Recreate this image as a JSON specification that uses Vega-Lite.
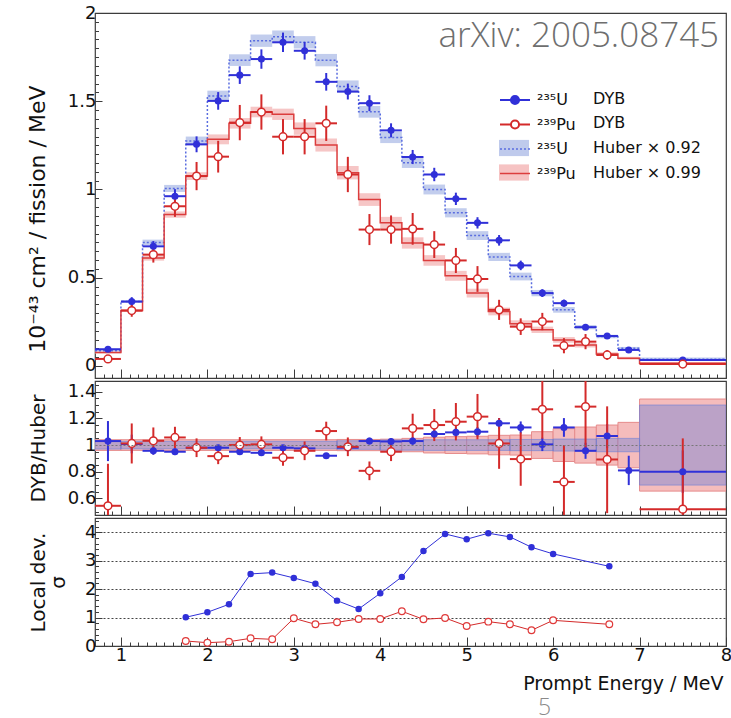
{
"$schema": "https://vega.github.io/schema/vega-lite/v6.json",
"padding": {"left": 25, "top": 3, "right": 0, "bottom": 8},
"spacing": 0,
"config": {
 "font": "DejaVu Sans",
 "view": {"stroke": "#3c3c3c", "strokeWidth": 1.2},
 "axis": {"domain": false, "grid": false, "tickColor": "#3c3c3c", "tickWidth": 1, "labelFont": "DejaVu Sans", "labelFontSize": 18, "labelColor": "#111111", "titleFont": "DejaVu Sans", "titleFontSize": 20, "titleFontWeight": "normal", "titleColor": "#111111", "labelFlush": false, "labelOverlap": false, "labelBound": false},
 "legend": {"labelFont": "DejaVu Sans", "labelFontSize": 16, "labelColor": "#111111", "orient": "none", "legendX": 410, "title": null, "padding": 0, "symbolSize": 324, "rowPadding": 6.5}
},
"datasets": {
 "dyb": [
  {"s":"U DYB","e":0.85,"lo":0.7,"hi":1.0,"v":0.095,"vl":0.085,"vh":0.105},
  {"s":"U DYB","e":1.125,"lo":1.0,"hi":1.25,"v":0.365,"vl":0.34,"vh":0.39},
  {"s":"U DYB","e":1.375,"lo":1.25,"hi":1.5,"v":0.678,"vl":0.648,"vh":0.708},
  {"s":"U DYB","e":1.625,"lo":1.5,"hi":1.75,"v":0.962,"vl":0.922,"vh":1.002},
  {"s":"U DYB","e":1.875,"lo":1.75,"hi":2.0,"v":1.256,"vl":1.211,"vh":1.301},
  {"s":"U DYB","e":2.125,"lo":2.0,"hi":2.25,"v":1.502,"vl":1.452,"vh":1.552},
  {"s":"U DYB","e":2.375,"lo":2.25,"hi":2.5,"v":1.648,"vl":1.598,"vh":1.698},
  {"s":"U DYB","e":2.625,"lo":2.5,"hi":2.75,"v":1.739,"vl":1.684,"vh":1.794},
  {"s":"U DYB","e":2.875,"lo":2.75,"hi":3.0,"v":1.834,"vl":1.779,"vh":1.889},
  {"s":"U DYB","e":3.125,"lo":3.0,"hi":3.25,"v":1.786,"vl":1.736,"vh":1.836},
  {"s":"U DYB","e":3.375,"lo":3.25,"hi":3.5,"v":1.61,"vl":1.56,"vh":1.66},
  {"s":"U DYB","e":3.625,"lo":3.5,"hi":3.75,"v":1.555,"vl":1.51,"vh":1.6},
  {"s":"U DYB","e":3.875,"lo":3.75,"hi":4.0,"v":1.489,"vl":1.444,"vh":1.534},
  {"s":"U DYB","e":4.125,"lo":4.0,"hi":4.25,"v":1.335,"vl":1.295,"vh":1.375},
  {"s":"U DYB","e":4.375,"lo":4.25,"hi":4.5,"v":1.184,"vl":1.144,"vh":1.224},
  {"s":"U DYB","e":4.625,"lo":4.5,"hi":4.75,"v":1.085,"vl":1.047,"vh":1.123},
  {"s":"U DYB","e":4.875,"lo":4.75,"hi":5.0,"v":0.947,"vl":0.912,"vh":0.982},
  {"s":"U DYB","e":5.125,"lo":5.0,"hi":5.25,"v":0.811,"vl":0.779,"vh":0.843},
  {"s":"U DYB","e":5.375,"lo":5.25,"hi":5.5,"v":0.712,"vl":0.682,"vh":0.742},
  {"s":"U DYB","e":5.625,"lo":5.5,"hi":5.75,"v":0.57,"vl":0.543,"vh":0.597},
  {"s":"U DYB","e":5.875,"lo":5.75,"hi":6.0,"v":0.413,"vl":0.391,"vh":0.435},
  {"s":"U DYB","e":6.125,"lo":6.0,"hi":6.25,"v":0.356,"vl":0.336,"vh":0.376},
  {"s":"U DYB","e":6.375,"lo":6.25,"hi":6.5,"v":0.22,"vl":0.204,"vh":0.236},
  {"s":"U DYB","e":6.625,"lo":6.5,"hi":6.75,"v":0.17,"vl":0.157,"vh":0.183},
  {"s":"U DYB","e":6.875,"lo":6.75,"hi":7.0,"v":0.091,"vl":0.081,"vh":0.101},
  {"s":"U DYB","e":7.5,"lo":7.0,"hi":8.0,"v":0.034,"vl":0.026,"vh":0.042},
  {"s":"Pu DYB","e":0.85,"lo":0.7,"hi":1.0,"v":0.04,"vl":0.028,"vh":0.052},
  {"s":"Pu DYB","e":1.125,"lo":1.0,"hi":1.25,"v":0.314,"vl":0.279,"vh":0.349},
  {"s":"Pu DYB","e":1.375,"lo":1.25,"hi":1.5,"v":0.631,"vl":0.586,"vh":0.676},
  {"s":"Pu DYB","e":1.625,"lo":1.5,"hi":1.75,"v":0.905,"vl":0.845,"vh":0.965},
  {"s":"Pu DYB","e":1.875,"lo":1.75,"hi":2.0,"v":1.076,"vl":0.996,"vh":1.156},
  {"s":"Pu DYB","e":2.125,"lo":2.0,"hi":2.25,"v":1.186,"vl":1.096,"vh":1.276},
  {"s":"Pu DYB","e":2.375,"lo":2.25,"hi":2.5,"v":1.379,"vl":1.279,"vh":1.479},
  {"s":"Pu DYB","e":2.625,"lo":2.5,"hi":2.75,"v":1.439,"vl":1.339,"vh":1.539},
  {"s":"Pu DYB","e":2.875,"lo":2.75,"hi":3.0,"v":1.299,"vl":1.199,"vh":1.399},
  {"s":"Pu DYB","e":3.125,"lo":3.0,"hi":3.25,"v":1.299,"vl":1.199,"vh":1.399},
  {"s":"Pu DYB","e":3.375,"lo":3.25,"hi":3.5,"v":1.375,"vl":1.275,"vh":1.475},
  {"s":"Pu DYB","e":3.625,"lo":3.5,"hi":3.75,"v":1.085,"vl":0.985,"vh":1.185},
  {"s":"Pu DYB","e":3.875,"lo":3.75,"hi":4.0,"v":0.773,"vl":0.685,"vh":0.861},
  {"s":"Pu DYB","e":4.125,"lo":4.0,"hi":4.25,"v":0.773,"vl":0.693,"vh":0.853},
  {"s":"Pu DYB","e":4.375,"lo":4.25,"hi":4.5,"v":0.777,"vl":0.687,"vh":0.867},
  {"s":"Pu DYB","e":4.625,"lo":4.5,"hi":4.75,"v":0.688,"vl":0.612,"vh":0.764},
  {"s":"Pu DYB","e":4.875,"lo":4.75,"hi":5.0,"v":0.598,"vl":0.527,"vh":0.669},
  {"s":"Pu DYB","e":5.125,"lo":5.0,"hi":5.25,"v":0.493,"vl":0.42,"vh":0.566},
  {"s":"Pu DYB","e":5.375,"lo":5.25,"hi":5.5,"v":0.318,"vl":0.261,"vh":0.375},
  {"s":"Pu DYB","e":5.625,"lo":5.5,"hi":5.75,"v":0.223,"vl":0.176,"vh":0.27},
  {"s":"Pu DYB","e":5.875,"lo":5.75,"hi":6.0,"v":0.252,"vl":0.203,"vh":0.301},
  {"s":"Pu DYB","e":6.125,"lo":6.0,"hi":6.25,"v":0.115,"vl":0.072,"vh":0.158},
  {"s":"Pu DYB","e":6.375,"lo":6.25,"hi":6.5,"v":0.138,"vl":0.095,"vh":0.181},
  {"s":"Pu DYB","e":6.625,"lo":6.5,"hi":6.75,"v":0.0625,"vl":0.035,"vh":0.09},
  {"s":"Pu DYB","e":7.5,"lo":7.0,"hi":8.0,"v":0.011,"vl":-0.009,"vh":0.031}
 ],
 "hub": [
  {"s":"U Huber","lo":0.7,"hi":1.0,"bl":0.082,"bh":0.092},
  {"s":"U Huber","lo":1.0,"hi":1.25,"bl":0.357,"bh":0.373},
  {"s":"U Huber","lo":1.25,"hi":1.5,"bl":0.684,"bh":0.716},
  {"s":"U Huber","lo":1.5,"hi":1.75,"bl":0.986,"bh":1.026},
  {"s":"U Huber","lo":1.75,"hi":2.0,"bl":1.25,"bh":1.3},
  {"s":"U Huber","lo":2.0,"hi":2.25,"bl":1.5,"bh":1.56},
  {"s":"U Huber","lo":2.25,"hi":2.5,"bl":1.7,"bh":1.766},
  {"s":"U Huber","lo":2.5,"hi":2.75,"bl":1.808,"bh":1.878},
  {"s":"U Huber","lo":2.75,"hi":3.0,"bl":1.831,"bh":1.901},
  {"s":"U Huber","lo":3.0,"hi":3.25,"bl":1.799,"bh":1.869},
  {"s":"U Huber","lo":3.25,"hi":3.5,"bl":1.698,"bh":1.768},
  {"s":"U Huber","lo":3.5,"hi":3.75,"bl":1.548,"bh":1.618},
  {"s":"U Huber","lo":3.75,"hi":4.0,"bl":1.407,"bh":1.473},
  {"s":"U Huber","lo":4.0,"hi":4.25,"bl":1.263,"bh":1.327},
  {"s":"U Huber","lo":4.25,"hi":4.5,"bl":1.122,"bh":1.182},
  {"s":"U Huber","lo":4.5,"hi":4.75,"bl":0.972,"bh":1.028},
  {"s":"U Huber","lo":4.75,"hi":5.0,"bl":0.842,"bh":0.894},
  {"s":"U Huber","lo":5.0,"hi":5.25,"bl":0.714,"bh":0.764},
  {"s":"U Huber","lo":5.25,"hi":5.5,"bl":0.595,"bh":0.641},
  {"s":"U Huber","lo":5.5,"hi":5.75,"bl":0.485,"bh":0.529},
  {"s":"U Huber","lo":5.75,"hi":6.0,"bl":0.395,"bh":0.431},
  {"s":"U Huber","lo":6.0,"hi":6.25,"bl":0.302,"bh":0.334},
  {"s":"U Huber","lo":6.25,"hi":6.5,"bl":0.208,"bh":0.232},
  {"s":"U Huber","lo":6.5,"hi":6.75,"bl":0.157,"bh":0.177},
  {"s":"U Huber","lo":6.75,"hi":7.0,"bl":0.092,"bh":0.108},
  {"s":"U Huber","lo":7.0,"hi":8.0,"bl":0.028,"bh":0.048},
  {"s":"Pu Huber","lo":0.7,"hi":1.0,"bl":0.071,"bh":0.081},
  {"s":"Pu Huber","lo":1.0,"hi":1.25,"bl":0.306,"bh":0.322},
  {"s":"Pu Huber","lo":1.25,"hi":1.5,"bl":0.597,"bh":0.627},
  {"s":"Pu Huber","lo":1.5,"hi":1.75,"bl":0.84,"bh":0.876},
  {"s":"Pu Huber","lo":1.75,"hi":2.0,"bl":1.054,"bh":1.098},
  {"s":"Pu Huber","lo":2.0,"hi":2.25,"bl":1.256,"bh":1.312},
  {"s":"Pu Huber","lo":2.25,"hi":2.5,"bl":1.345,"bh":1.405},
  {"s":"Pu Huber","lo":2.5,"hi":2.75,"bl":1.409,"bh":1.469},
  {"s":"Pu Huber","lo":2.75,"hi":3.0,"bl":1.394,"bh":1.458},
  {"s":"Pu Huber","lo":3.0,"hi":3.25,"bl":1.31,"bh":1.38},
  {"s":"Pu Huber","lo":3.25,"hi":3.5,"bl":1.215,"bh":1.289},
  {"s":"Pu Huber","lo":3.5,"hi":3.75,"bl":1.057,"bh":1.133},
  {"s":"Pu Huber","lo":3.75,"hi":4.0,"bl":0.907,"bh":0.979},
  {"s":"Pu Huber","lo":4.0,"hi":4.25,"bl":0.777,"bh":0.845},
  {"s":"Pu Huber","lo":4.25,"hi":4.5,"bl":0.665,"bh":0.729},
  {"s":"Pu Huber","lo":4.5,"hi":4.75,"bl":0.568,"bh":0.628},
  {"s":"Pu Huber","lo":4.75,"hi":5.0,"bl":0.483,"bh":0.539},
  {"s":"Pu Huber","lo":5.0,"hi":5.25,"bl":0.388,"bh":0.438},
  {"s":"Pu Huber","lo":5.25,"hi":5.5,"bl":0.287,"bh":0.331},
  {"s":"Pu Huber","lo":5.5,"hi":5.75,"bl":0.219,"bh":0.259},
  {"s":"Pu Huber","lo":5.75,"hi":6.0,"bl":0.187,"bh":0.223},
  {"s":"Pu Huber","lo":6.0,"hi":6.25,"bl":0.132,"bh":0.164},
  {"s":"Pu Huber","lo":6.25,"hi":6.5,"bl":0.105,"bh":0.133},
  {"s":"Pu Huber","lo":6.5,"hi":6.75,"bl":0.058,"bh":0.078},
  {"s":"Pu Huber","lo":6.75,"hi":7.0,"bl":0.036,"bh":0.052},
  {"s":"Pu Huber","lo":7.0,"hi":8.0,"bl":0.007,"bh":0.023}
 ],
 "hstep": [
  {"s":"U Huber","x":0.7,"v":0.087},{"s":"U Huber","x":1.0,"v":0.365},{"s":"U Huber","x":1.25,"v":0.70},{"s":"U Huber","x":1.5,"v":1.006},
  {"s":"U Huber","x":1.75,"v":1.275},{"s":"U Huber","x":2.0,"v":1.53},{"s":"U Huber","x":2.25,"v":1.733},{"s":"U Huber","x":2.5,"v":1.843},
  {"s":"U Huber","x":2.75,"v":1.866},{"s":"U Huber","x":3.0,"v":1.834},{"s":"U Huber","x":3.25,"v":1.733},{"s":"U Huber","x":3.5,"v":1.583},
  {"s":"U Huber","x":3.75,"v":1.44},{"s":"U Huber","x":4.0,"v":1.295},{"s":"U Huber","x":4.25,"v":1.152},{"s":"U Huber","x":4.5,"v":1.0},
  {"s":"U Huber","x":4.75,"v":0.868},{"s":"U Huber","x":5.0,"v":0.739},{"s":"U Huber","x":5.25,"v":0.618},{"s":"U Huber","x":5.5,"v":0.507},
  {"s":"U Huber","x":5.75,"v":0.413},{"s":"U Huber","x":6.0,"v":0.318},{"s":"U Huber","x":6.25,"v":0.22},{"s":"U Huber","x":6.5,"v":0.167},
  {"s":"U Huber","x":6.75,"v":0.10},{"s":"U Huber","x":7.0,"v":0.038},{"s":"U Huber","x":8.0,"v":0.038},
  {"s":"Pu Huber","x":0.7,"v":0.076},{"s":"Pu Huber","x":1.0,"v":0.314},{"s":"Pu Huber","x":1.25,"v":0.612},{"s":"Pu Huber","x":1.5,"v":0.858},
  {"s":"Pu Huber","x":1.75,"v":1.076},{"s":"Pu Huber","x":2.0,"v":1.284},{"s":"Pu Huber","x":2.25,"v":1.375},{"s":"Pu Huber","x":2.5,"v":1.439},
  {"s":"Pu Huber","x":2.75,"v":1.426},{"s":"Pu Huber","x":3.0,"v":1.345},{"s":"Pu Huber","x":3.25,"v":1.252},{"s":"Pu Huber","x":3.5,"v":1.095},
  {"s":"Pu Huber","x":3.75,"v":0.943},{"s":"Pu Huber","x":4.0,"v":0.811},{"s":"Pu Huber","x":4.25,"v":0.697},{"s":"Pu Huber","x":4.5,"v":0.598},
  {"s":"Pu Huber","x":4.75,"v":0.511},{"s":"Pu Huber","x":5.0,"v":0.413},{"s":"Pu Huber","x":5.25,"v":0.309},{"s":"Pu Huber","x":5.5,"v":0.239},
  {"s":"Pu Huber","x":5.75,"v":0.205},{"s":"Pu Huber","x":6.0,"v":0.148},{"s":"Pu Huber","x":6.25,"v":0.119},{"s":"Pu Huber","x":6.5,"v":0.068},
  {"s":"Pu Huber","x":6.75,"v":0.044},{"s":"Pu Huber","x":7.0,"v":0.015},{"s":"Pu Huber","x":8.0,"v":0.015}
 ],
 "rdyb": [
  {"s":"U DYB","e":0.85,"lo":0.7,"hi":1.0,"v":1.03,"vl":0.88,"vh":1.18},
  {"s":"U DYB","e":1.125,"lo":1.0,"hi":1.25,"v":1.008,"vl":0.938,"vh":1.078},
  {"s":"U DYB","e":1.375,"lo":1.25,"hi":1.5,"v":0.957,"vl":0.927,"vh":0.987},
  {"s":"U DYB","e":1.625,"lo":1.5,"hi":1.75,"v":0.95,"vl":0.925,"vh":0.975},
  {"s":"U DYB","e":1.875,"lo":1.75,"hi":2.0,"v":0.98,"vl":0.958,"vh":1.002},
  {"s":"U DYB","e":2.125,"lo":2.0,"hi":2.25,"v":0.98,"vl":0.96,"vh":1.0},
  {"s":"U DYB","e":2.375,"lo":2.25,"hi":2.5,"v":0.95,"vl":0.93,"vh":0.97},
  {"s":"U DYB","e":2.625,"lo":2.5,"hi":2.75,"v":0.942,"vl":0.922,"vh":0.962},
  {"s":"U DYB","e":2.875,"lo":2.75,"hi":3.0,"v":0.98,"vl":0.96,"vh":1.0},
  {"s":"U DYB","e":3.125,"lo":3.0,"hi":3.25,"v":0.975,"vl":0.955,"vh":0.995},
  {"s":"U DYB","e":3.375,"lo":3.25,"hi":3.5,"v":0.92,"vl":0.9,"vh":0.94},
  {"s":"U DYB","e":3.625,"lo":3.5,"hi":3.75,"v":0.98,"vl":0.958,"vh":1.002},
  {"s":"U DYB","e":3.875,"lo":3.75,"hi":4.0,"v":1.03,"vl":1.005,"vh":1.055},
  {"s":"U DYB","e":4.125,"lo":4.0,"hi":4.25,"v":1.027,"vl":1.002,"vh":1.052},
  {"s":"U DYB","e":4.375,"lo":4.25,"hi":4.5,"v":1.03,"vl":1.002,"vh":1.058},
  {"s":"U DYB","e":4.625,"lo":4.5,"hi":4.75,"v":1.083,"vl":1.053,"vh":1.113},
  {"s":"U DYB","e":4.875,"lo":4.75,"hi":5.0,"v":1.095,"vl":1.06,"vh":1.13},
  {"s":"U DYB","e":5.125,"lo":5.0,"hi":5.25,"v":1.10,"vl":1.065,"vh":1.135},
  {"s":"U DYB","e":5.375,"lo":5.25,"hi":5.5,"v":1.163,"vl":1.123,"vh":1.203},
  {"s":"U DYB","e":5.625,"lo":5.5,"hi":5.75,"v":1.132,"vl":1.087,"vh":1.177},
  {"s":"U DYB","e":5.875,"lo":5.75,"hi":6.0,"v":1.005,"vl":0.955,"vh":1.055},
  {"s":"U DYB","e":6.125,"lo":6.0,"hi":6.25,"v":1.132,"vl":1.062,"vh":1.202},
  {"s":"U DYB","e":6.375,"lo":6.25,"hi":6.5,"v":0.957,"vl":0.897,"vh":1.017},
  {"s":"U DYB","e":6.625,"lo":6.5,"hi":6.75,"v":1.068,"vl":0.978,"vh":1.158},
  {"s":"U DYB","e":6.875,"lo":6.75,"hi":7.0,"v":0.81,"vl":0.70,"vh":0.92},
  {"s":"U DYB","e":7.5,"lo":7.0,"hi":8.0,"v":0.80,"vl":0.64,"vh":0.96},
  {"s":"Pu DYB","e":0.85,"lo":0.7,"hi":1.0,"v":0.545,"vl":0.23,"vh":0.86},
  {"s":"Pu DYB","e":1.125,"lo":1.0,"hi":1.25,"v":1.012,"vl":0.862,"vh":1.162},
  {"s":"Pu DYB","e":1.375,"lo":1.25,"hi":1.5,"v":1.032,"vl":0.932,"vh":1.132},
  {"s":"Pu DYB","e":1.625,"lo":1.5,"hi":1.75,"v":1.057,"vl":0.977,"vh":1.137},
  {"s":"Pu DYB","e":1.875,"lo":1.75,"hi":2.0,"v":0.98,"vl":0.91,"vh":1.05},
  {"s":"Pu DYB","e":2.125,"lo":2.0,"hi":2.25,"v":0.917,"vl":0.857,"vh":0.977},
  {"s":"Pu DYB","e":2.375,"lo":2.25,"hi":2.5,"v":1.0,"vl":0.94,"vh":1.06},
  {"s":"Pu DYB","e":2.625,"lo":2.5,"hi":2.75,"v":1.005,"vl":0.945,"vh":1.065},
  {"s":"Pu DYB","e":2.875,"lo":2.75,"hi":3.0,"v":0.905,"vl":0.845,"vh":0.965},
  {"s":"Pu DYB","e":3.125,"lo":3.0,"hi":3.25,"v":0.957,"vl":0.887,"vh":1.027},
  {"s":"Pu DYB","e":3.375,"lo":3.25,"hi":3.5,"v":1.105,"vl":1.035,"vh":1.175},
  {"s":"Pu DYB","e":3.625,"lo":3.5,"hi":3.75,"v":0.987,"vl":0.917,"vh":1.057},
  {"s":"Pu DYB","e":3.875,"lo":3.75,"hi":4.0,"v":0.807,"vl":0.737,"vh":0.877},
  {"s":"Pu DYB","e":4.125,"lo":4.0,"hi":4.25,"v":0.95,"vl":0.88,"vh":1.02},
  {"s":"Pu DYB","e":4.375,"lo":4.25,"hi":4.5,"v":1.125,"vl":1.015,"vh":1.235},
  {"s":"Pu DYB","e":4.625,"lo":4.5,"hi":4.75,"v":1.15,"vl":1.03,"vh":1.27},
  {"s":"Pu DYB","e":4.875,"lo":4.75,"hi":5.0,"v":1.175,"vl":1.035,"vh":1.315},
  {"s":"Pu DYB","e":5.125,"lo":5.0,"hi":5.25,"v":1.213,"vl":1.043,"vh":1.383},
  {"s":"Pu DYB","e":5.375,"lo":5.25,"hi":5.5,"v":1.012,"vl":0.822,"vh":1.202},
  {"s":"Pu DYB","e":5.625,"lo":5.5,"hi":5.75,"v":0.895,"vl":0.695,"vh":1.095},
  {"s":"Pu DYB","e":5.875,"lo":5.75,"hi":6.0,"v":1.268,"vl":1.048,"vh":1.6},
  {"s":"Pu DYB","e":6.125,"lo":6.0,"hi":6.25,"v":0.724,"vl":0.2,"vh":1.0},
  {"s":"Pu DYB","e":6.375,"lo":6.25,"hi":6.5,"v":1.288,"vl":0.975,"vh":1.6},
  {"s":"Pu DYB","e":6.625,"lo":6.5,"hi":6.75,"v":0.892,"vl":0.49,"vh":1.29},
  {"s":"Pu DYB","e":7.5,"lo":7.0,"hi":8.0,"v":0.52,"vl":0.2,"vh":1.05}
 ],
 "rhub": [
  {"s":"Pu Huber","lo":0.7,"hi":1.0,"bl":0.96,"bh":1.04},
  {"s":"Pu Huber","lo":1.0,"hi":3.5,"bl":0.96,"bh":1.04},
  {"s":"Pu Huber","lo":3.5,"hi":4.0,"bl":0.958,"bh":1.042},
  {"s":"Pu Huber","lo":4.0,"hi":4.25,"bl":0.956,"bh":1.044},
  {"s":"Pu Huber","lo":4.25,"hi":4.5,"bl":0.95,"bh":1.05},
  {"s":"Pu Huber","lo":4.5,"hi":4.75,"bl":0.941,"bh":1.059},
  {"s":"Pu Huber","lo":4.75,"hi":5.0,"bl":0.937,"bh":1.063},
  {"s":"Pu Huber","lo":5.0,"hi":5.25,"bl":0.934,"bh":1.066},
  {"s":"Pu Huber","lo":5.25,"hi":5.5,"bl":0.927,"bh":1.073},
  {"s":"Pu Huber","lo":5.5,"hi":5.75,"bl":0.925,"bh":1.075},
  {"s":"Pu Huber","lo":5.75,"hi":6.0,"bl":0.90,"bh":1.10},
  {"s":"Pu Huber","lo":6.0,"hi":6.25,"bl":0.877,"bh":1.123},
  {"s":"Pu Huber","lo":6.25,"hi":6.5,"bl":0.865,"bh":1.135},
  {"s":"Pu Huber","lo":6.5,"hi":6.75,"bl":0.85,"bh":1.15},
  {"s":"Pu Huber","lo":6.75,"hi":7.0,"bl":0.83,"bh":1.17},
  {"s":"Pu Huber","lo":7.0,"hi":8.0,"bl":0.655,"bh":1.345},
  {"s":"U Huber","lo":0.7,"hi":1.0,"bl":0.97,"bh":1.03},
  {"s":"U Huber","lo":1.0,"hi":3.5,"bl":0.972,"bh":1.028},
  {"s":"U Huber","lo":3.5,"hi":4.0,"bl":0.968,"bh":1.032},
  {"s":"U Huber","lo":4.0,"hi":4.5,"bl":0.962,"bh":1.038},
  {"s":"U Huber","lo":4.5,"hi":5.5,"bl":0.96,"bh":1.04},
  {"s":"U Huber","lo":5.5,"hi":6.0,"bl":0.958,"bh":1.042},
  {"s":"U Huber","lo":6.0,"hi":6.5,"bl":0.955,"bh":1.045},
  {"s":"U Huber","lo":6.5,"hi":7.0,"bl":0.95,"bh":1.05},
  {"s":"U Huber","lo":7.0,"hi":8.0,"bl":0.70,"bh":1.30}
 ],
 "dev": [
  {"s":"U","e":1.75,"v":1.01},{"s":"U","e":2.0,"v":1.185},{"s":"U","e":2.25,"v":1.466},{"s":"U","e":2.5,"v":2.534},
  {"s":"U","e":2.75,"v":2.58},{"s":"U","e":3.0,"v":2.393},{"s":"U","e":3.25,"v":2.19},{"s":"U","e":3.5,"v":1.595},
  {"s":"U","e":3.75,"v":1.30},{"s":"U","e":4.0,"v":1.853},{"s":"U","e":4.25,"v":2.43},{"s":"U","e":4.5,"v":3.343},
  {"s":"U","e":4.75,"v":3.94},{"s":"U","e":5.0,"v":3.754},{"s":"U","e":5.25,"v":3.965},{"s":"U","e":5.5,"v":3.836},
  {"s":"U","e":5.75,"v":3.472},{"s":"U","e":6.0,"v":3.238},{"s":"U","e":6.65,"v":2.80},
  {"s":"Pu","e":1.75,"v":0.176},{"s":"Pu","e":2.0,"v":0.117},{"s":"Pu","e":2.25,"v":0.152},{"s":"Pu","e":2.5,"v":0.27},
  {"s":"Pu","e":2.75,"v":0.235},{"s":"Pu","e":3.0,"v":0.974},{"s":"Pu","e":3.25,"v":0.762},{"s":"Pu","e":3.5,"v":0.833},
  {"s":"Pu","e":3.75,"v":0.95},{"s":"Pu","e":4.0,"v":0.95},{"s":"Pu","e":4.25,"v":1.22},{"s":"Pu","e":4.5,"v":0.938},
  {"s":"Pu","e":4.75,"v":0.985},{"s":"Pu","e":5.0,"v":0.704},{"s":"Pu","e":5.25,"v":0.856},{"s":"Pu","e":5.5,"v":0.762},
  {"s":"Pu","e":5.75,"v":0.551},{"s":"Pu","e":6.0,"v":0.903},{"s":"Pu","e":6.65,"v":0.762}
 ],
 "tag": [{"t":"arXiv: 2005.08745"}]
},
"vconcat": [
 {
  "width": 631, "height": 365,
  "resolve": {"axis": {"x": "independent", "y": "independent"}, "scale": {"color": "independent"}},
  "layer": [
   {"data": {"name": "hub"}, "mark": {"type": "rect", "fillOpacity": 0.95},
    "encoding": {
     "x": {"field": "lo", "type": "quantitative", "scale": {"domain": [0.7, 8], "nice": false, "zero": false},
      "axis": {"orient": "bottom", "values": [1,2,3,4,5,6,7,8], "tickSize": -9, "labels": false, "title": null}},
     "x2": {"field": "hi"},
     "y": {"field": "bl", "type": "quantitative", "scale": {"domain": [-0.068, 2], "nice": false, "zero": false},
      "axis": {"orient": "left", "values": [0,0.5,1,1.5,2], "format": "~g", "tickSize": -7, "labelPadding": 6, "title": "10⁻⁴³ cm² / fission / MeV", "titleX": -51, "titleY": 72, "titleAlign": "right", "titleBaseline": "alphabetic", "titleFontSize": 22}},
     "y2": {"field": "bh"},
     "color": {"field": "s", "type": "nominal", "scale": {"domain": ["U Huber","Pu Huber"], "range": ["#bfcaec","#f6c3c3"]},
      "legend": {"legendY": 126, "symbolType": "M-1.667,-0.9H1.667V0.9H-1.667Z", "symbolStrokeWidth": 0, "symbolOpacity": 1, "labelOffset": 70, "zindex": 1,
       "labelExpr": "datum.value == 'U Huber' ? 'Huber × 0.92' : 'Huber × 0.99'"}}
    }},
   {"data": {"name": "hstep"}, "transform": [{"filter": "datum.s == 'U Huber'"}],
    "mark": {"type": "line", "interpolate": "step-after", "strokeWidth": 1.5, "stroke": "#5a6de0", "strokeDash": [2,2]},
    "encoding": {
     "x": {"field": "x", "type": "quantitative", "scale": {"domain": [0.7, 8], "nice": false, "zero": false},
      "axis": {"orient": "bottom", "values": [0.8,0.9,1,1.1,1.2,1.3,1.4,1.5,1.6,1.7,1.8,1.9,2,2.1,2.2,2.3,2.4,2.5,2.6,2.7,2.8,2.9,3,3.1,3.2,3.3,3.4,3.5,3.6,3.7,3.8,3.9,4,4.1,4.2,4.3,4.4,4.5,4.6,4.7,4.8,4.9,5,5.1,5.2,5.3,5.4,5.5,5.6,5.7,5.8,5.9,6,6.1,6.2,6.3,6.4,6.5,6.6,6.7,6.8,6.9,7,7.1,7.2,7.3,7.4,7.5,7.6,7.7,7.8,7.9], "tickSize": -4, "labels": false, "title": null}},
     "y": {"field": "v", "type": "quantitative", "scale": {"domain": [-0.068, 2], "nice": false, "zero": false},
      "axis": {"orient": "left", "values": [0,0.05,0.1,0.15,0.2,0.25,0.3,0.35,0.4,0.45,0.5,0.55,0.6,0.65,0.7,0.75,0.8,0.85,0.9,0.95,1,1.05,1.1,1.15,1.2,1.25,1.3,1.35,1.4,1.45,1.5,1.55,1.6,1.65,1.7,1.75,1.8,1.85,1.9,1.95,2], "tickSize": -3.5, "labels": false, "title": null}}
    }},
   {"data": {"name": "hstep"}, "transform": [{"filter": "datum.s == 'Pu Huber'"}],
    "mark": {"type": "line", "interpolate": "step-after", "strokeWidth": 1.5, "stroke": "#dc3d3d"},
    "encoding": {
     "x": {"field": "x", "type": "quantitative", "scale": {"domain": [0.7, 8], "nice": false, "zero": false}, "axis": null},
     "y": {"field": "v", "type": "quantitative", "scale": {"domain": [-0.068, 2], "nice": false, "zero": false}, "axis": null}
    }},
   {"data": {"name": "dyb"}, "transform": [{"filter": "datum.s == 'U DYB'"}], "mark": {"type": "rule", "strokeWidth": 2, "stroke": "#3030d8"},
    "encoding": {
     "x": {"field": "e", "type": "quantitative", "scale": {"domain": [0.7, 8], "nice": false, "zero": false}, "axis": null},
     "y": {"field": "vl", "type": "quantitative", "scale": {"domain": [-0.068, 2], "nice": false, "zero": false}, "axis": null},
     "y2": {"field": "vh"}
    }},
   {"data": {"name": "dyb"}, "transform": [{"filter": "datum.s == 'U DYB'"}], "mark": {"type": "rule", "strokeWidth": 2, "stroke": "#3030d8"},
    "encoding": {
     "x": {"field": "lo", "type": "quantitative", "scale": {"domain": [0.7, 8], "nice": false, "zero": false}, "axis": null},
     "x2": {"field": "hi"},
     "y": {"field": "v", "type": "quantitative", "scale": {"domain": [-0.068, 2], "nice": false, "zero": false}, "axis": null}
    }},
   {"data": {"name": "dyb"}, "transform": [{"filter": "datum.s == 'Pu DYB'"}], "mark": {"type": "rule", "strokeWidth": 2, "stroke": "#d42a2a"},
    "encoding": {
     "x": {"field": "e", "type": "quantitative", "scale": {"domain": [0.7, 8], "nice": false, "zero": false}, "axis": null},
     "y": {"field": "vl", "type": "quantitative", "scale": {"domain": [-0.068, 2], "nice": false, "zero": false}, "axis": null},
     "y2": {"field": "vh"}
    }},
   {"data": {"name": "dyb"}, "transform": [{"filter": "datum.s == 'Pu DYB'"}], "mark": {"type": "rule", "strokeWidth": 2, "stroke": "#d42a2a"},
    "encoding": {
     "x": {"field": "lo", "type": "quantitative", "scale": {"domain": [0.7, 8], "nice": false, "zero": false}, "axis": null},
     "x2": {"field": "hi"},
     "y": {"field": "v", "type": "quantitative", "scale": {"domain": [-0.068, 2], "nice": false, "zero": false}, "axis": null}
    }},
   {"data": {"name": "dyb"}, "transform": [{"filter": "datum.s == 'U DYB'"}],
    "mark": {"type": "point", "shape": "circle", "filled": true, "fill": "#3030d8", "strokeWidth": 0, "size": 50, "opacity": 1},
    "encoding": {
     "x": {"field": "e", "type": "quantitative", "scale": {"domain": [0.7, 8], "nice": false, "zero": false}, "axis": null},
     "y": {"field": "v", "type": "quantitative", "scale": {"domain": [-0.068, 2], "nice": false, "zero": false}, "axis": null}
    }},
   {"data": {"name": "dyb"}, "transform": [{"filter": "datum.s == 'Pu DYB'"}],
    "mark": {"type": "point", "shape": "circle", "filled": true, "fill": "#ffffff", "stroke": "#d42a2a", "strokeWidth": 1.5, "size": 60, "opacity": 1},
    "encoding": {
     "x": {"field": "e", "type": "quantitative", "scale": {"domain": [0.7, 8], "nice": false, "zero": false}, "axis": null},
     "y": {"field": "v", "type": "quantitative", "scale": {"domain": [-0.068, 2], "nice": false, "zero": false}, "axis": null}
    }},
   {"data": {"name": "dyb"}, "transform": [{"filter": "datum.s == 'none'"}],
    "mark": {"type": "point", "filled": true, "opacity": 1},
    "encoding": {
     "x": {"field": "e", "type": "quantitative", "scale": {"domain": [0.7, 8], "nice": false, "zero": false}, "axis": null},
     "y": {"field": "v", "type": "quantitative", "scale": {"domain": [-0.068, 2], "nice": false, "zero": false}, "axis": null},
     "color": {"field": "s", "type": "nominal", "scale": {"domain": ["k1"], "range": ["#3030d8"]},
      "legend": {"legendY": 77, "symbolType": "M-1.667,0H1.667M-0.45,0A0.45,0.45 0 1,0 0.45,0A0.45,0.45 0 1,0 -0.45,0Z", "symbolStrokeColor": "#3030d8", "symbolStrokeWidth": 2, "symbolOpacity": 1, "labelOffset": 12, "zindex": 2, "labelExpr": "'²³⁵U'"}}
    }},
   {"data": {"name": "dyb"}, "transform": [{"filter": "datum.s == 'none'"}],
    "mark": {"type": "point", "filled": true, "opacity": 1},
    "encoding": {
     "x": {"field": "e", "type": "quantitative", "scale": {"domain": [0.7, 8], "nice": false, "zero": false}, "axis": null},
     "y": {"field": "v", "type": "quantitative", "scale": {"domain": [-0.068, 2], "nice": false, "zero": false}, "axis": null},
     "color": {"field": "s", "type": "nominal", "scale": {"domain": ["k2"], "range": ["#ffffff"]},
      "legend": {"legendY": 101.5, "symbolType": "M-1.667,0H-0.45M0.45,0H1.667M-0.45,0A0.45,0.45 0 1,0 0.45,0A0.45,0.45 0 1,0 -0.45,0Z", "symbolStrokeColor": "#d42a2a", "symbolStrokeWidth": 2, "symbolOpacity": 1, "labelOffset": 12, "zindex": 2, "labelExpr": "'²³⁹Pu'"}}
    }},
   {"data": {"name": "dyb"}, "transform": [{"filter": "datum.s == 'none'"}],
    "mark": {"type": "point", "filled": true, "opacity": 1},
    "encoding": {
     "x": {"field": "e", "type": "quantitative", "scale": {"domain": [0.7, 8], "nice": false, "zero": false}, "axis": null},
     "y": {"field": "v", "type": "quantitative", "scale": {"domain": [-0.068, 2], "nice": false, "zero": false}, "axis": null},
     "color": {"field": "s", "type": "nominal", "scale": {"domain": ["k3"], "range": ["#5a6de0"]},
      "legend": {"legendY": 126, "symbolType": "M-1.667,0H1.667", "symbolStrokeColor": "#5a6de0", "symbolStrokeWidth": 1.5, "symbolDash": [2,2], "symbolOpacity": 1, "labelOffset": 12, "zindex": 2, "labelExpr": "'²³⁵U'"}}
    }},
   {"data": {"name": "dyb"}, "transform": [{"filter": "datum.s == 'none'"}],
    "mark": {"type": "point", "filled": true, "opacity": 1},
    "encoding": {
     "x": {"field": "e", "type": "quantitative", "scale": {"domain": [0.7, 8], "nice": false, "zero": false}, "axis": null},
     "y": {"field": "v", "type": "quantitative", "scale": {"domain": [-0.068, 2], "nice": false, "zero": false}, "axis": null},
     "color": {"field": "s", "type": "nominal", "scale": {"domain": ["k4"], "range": ["#dc3d3d"]},
      "legend": {"legendY": 150.5, "symbolType": "M-1.667,0H1.667", "symbolStrokeColor": "#dc3d3d", "symbolStrokeWidth": 1.5, "symbolOpacity": 1, "labelOffset": 12, "zindex": 2, "labelExpr": "'²³⁹Pu'"}}
    }},
   {"data": {"name": "dyb"}, "transform": [{"filter": "datum.s == 'none'"}],
    "mark": {"type": "point", "filled": true, "opacity": 1},
    "encoding": {
     "x": {"field": "e", "type": "quantitative", "scale": {"domain": [0.7, 8], "nice": false, "zero": false}, "axis": null},
     "y": {"field": "v", "type": "quantitative", "scale": {"domain": [-0.068, 2], "nice": false, "zero": false}, "axis": null},
     "color": {"field": "s", "type": "nominal", "scale": {"domain": ["b1","b2"], "range": ["#ffffff","#ffffff"]},
      "legend": {"legendY": 77, "symbolType": "M-1.667,0H1.667", "symbolStrokeWidth": 0, "symbolOpacity": 0, "labelOffset": 70, "zindex": 2, "labelExpr": "'DYB'"}}
    }},
   {"data": {"name": "tag"},
    "mark": {"type": "text", "align": "right", "baseline": "alphabetic", "font": "Open Sans", "fontWeight": 300, "fontSize": 35, "color": "#6e6e6e"},
    "encoding": {
     "x": {"datum": 7.92, "type": "quantitative", "scale": {"domain": [0.7, 8], "nice": false, "zero": false}, "axis": null},
     "y": {"datum": 1.81, "type": "quantitative", "scale": {"domain": [-0.068, 2], "nice": false, "zero": false}, "axis": null},
     "text": {"field": "t"}
    }}
  ]
 },
 {
  "width": 631, "height": 134,
  "resolve": {"axis": {"x": "independent", "y": "independent"}},
  "layer": [
   {"data": {"name": "rhub"}, "transform": [{"filter": "datum.s == 'Pu Huber'"}],
    "mark": {"type": "rect", "fill": "#f5bcbc", "stroke": "#e68c8c", "strokeWidth": 1, "clip": true},
    "encoding": {
     "x": {"field": "lo", "type": "quantitative", "scale": {"domain": [0.7, 8], "nice": false, "zero": false},
      "axis": {"orient": "bottom", "values": [1,2,3,4,5,6,7,8], "tickSize": -9, "labels": false, "title": null}},
     "x2": {"field": "hi"},
     "y": {"field": "bl", "type": "quantitative", "scale": {"domain": [0.476, 1.48], "nice": false, "zero": false},
      "axis": {"orient": "left", "values": [0.6,0.8,1,1.2,1.4], "format": "~g", "tickSize": -7, "labelPadding": 6, "title": "DYB/Huber", "titleX": -51, "titleBaseline": "alphabetic"}},
     "y2": {"field": "bh"}
    }},
   {"data": {"name": "rhub"}, "transform": [{"filter": "datum.s == 'U Huber'"}],
    "mark": {"type": "rect", "fill": "#6c7ed6", "fillOpacity": 0.42, "stroke": "#6c7ed6", "strokeOpacity": 0.6, "strokeWidth": 1, "clip": true},
    "encoding": {
     "x": {"field": "lo", "type": "quantitative", "scale": {"domain": [0.7, 8], "nice": false, "zero": false},
      "axis": {"orient": "bottom", "values": [0.8,0.9,1,1.1,1.2,1.3,1.4,1.5,1.6,1.7,1.8,1.9,2,2.1,2.2,2.3,2.4,2.5,2.6,2.7,2.8,2.9,3,3.1,3.2,3.3,3.4,3.5,3.6,3.7,3.8,3.9,4,4.1,4.2,4.3,4.4,4.5,4.6,4.7,4.8,4.9,5,5.1,5.2,5.3,5.4,5.5,5.6,5.7,5.8,5.9,6,6.1,6.2,6.3,6.4,6.5,6.6,6.7,6.8,6.9,7,7.1,7.2,7.3,7.4,7.5,7.6,7.7,7.8,7.9], "tickSize": -4, "labels": false, "title": null}},
     "x2": {"field": "hi"},
     "y": {"field": "bl", "type": "quantitative", "scale": {"domain": [0.476, 1.48], "nice": false, "zero": false},
      "axis": {"orient": "left", "values": [0.5,0.55,0.6,0.65,0.7,0.75,0.8,0.85,0.9,0.95,1,1.05,1.1,1.15,1.2,1.25,1.3,1.35,1.4,1.45], "tickSize": -3.5, "labels": false, "title": null}},
     "y2": {"field": "bh"}
    }},
   {"data": {"name": "rdyb"}, "mark": {"type": "rule", "strokeWidth": 2, "clip": true},
    "encoding": {
     "x": {"field": "e", "type": "quantitative", "scale": {"domain": [0.7, 8], "nice": false, "zero": false}, "axis": null},
     "y": {"field": "vl", "type": "quantitative", "scale": {"domain": [0.476, 1.48], "nice": false, "zero": false},
      "axis": {"orient": "left", "values": [1], "ticks": false, "labels": false, "title": null, "grid": true, "gridDash": [2,2], "gridColor": "#777777", "gridWidth": 1, "zindex": 1}},
     "y2": {"field": "vh"},
     "stroke": {"field": "s", "type": "nominal", "scale": {"domain": ["U DYB","Pu DYB"], "range": ["#3030d8","#d42a2a"]}, "legend": null}
    }},
   {"data": {"name": "rdyb"}, "mark": {"type": "rule", "strokeWidth": 2, "clip": true},
    "encoding": {
     "x": {"field": "lo", "type": "quantitative", "scale": {"domain": [0.7, 8], "nice": false, "zero": false}, "axis": null},
     "x2": {"field": "hi"},
     "y": {"field": "v", "type": "quantitative", "scale": {"domain": [0.476, 1.48], "nice": false, "zero": false}, "axis": null},
     "stroke": {"field": "s", "type": "nominal", "scale": {"domain": ["U DYB","Pu DYB"], "range": ["#3030d8","#d42a2a"]}, "legend": null}
    }},
   {"data": {"name": "rdyb"}, "transform": [{"filter": "datum.s == 'U DYB'"}],
    "mark": {"type": "point", "shape": "circle", "filled": true, "fill": "#3030d8", "strokeWidth": 0, "size": 50, "opacity": 1, "clip": true},
    "encoding": {
     "x": {"field": "e", "type": "quantitative", "scale": {"domain": [0.7, 8], "nice": false, "zero": false}, "axis": null},
     "y": {"field": "v", "type": "quantitative", "scale": {"domain": [0.476, 1.48], "nice": false, "zero": false}, "axis": null}
    }},
   {"data": {"name": "rdyb"}, "transform": [{"filter": "datum.s == 'Pu DYB'"}],
    "mark": {"type": "point", "shape": "circle", "filled": true, "fill": "#ffffff", "stroke": "#d42a2a", "strokeWidth": 1.5, "size": 60, "opacity": 1, "clip": true},
    "encoding": {
     "x": {"field": "e", "type": "quantitative", "scale": {"domain": [0.7, 8], "nice": false, "zero": false}, "axis": null},
     "y": {"field": "v", "type": "quantitative", "scale": {"domain": [0.476, 1.48], "nice": false, "zero": false}, "axis": null}
    }}
  ]
 },
 {
  "width": 631, "height": 128,
  "resolve": {"axis": {"x": "independent", "y": "independent"}},
  "layer": [
   {"data": {"name": "dev"}, "mark": {"type": "line", "strokeWidth": 1},
    "encoding": {
     "x": {"field": "e", "type": "quantitative", "scale": {"domain": [0.7, 8], "nice": false, "zero": false},
      "axis": {"orient": "bottom", "values": [1,2,3,4,5,6,7,8], "format": "~g", "tickSize": -9, "labelPadding": 9, "title": "Prompt Energy / MeV", "titleX": 628, "titleY": 43, "titleAlign": "right", "titleBaseline": "alphabetic", "titleFontSize": 19}},
     "y": {"field": "v", "type": "quantitative", "scale": {"domain": [0, 4.5], "nice": false, "zero": false},
      "axis": {"orient": "left", "values": [0,1,2,3,4], "format": "~g", "tickSize": -7, "labelPadding": 6, "title": ["Local dev.", "σ"], "titleX": -51, "titleBaseline": "alphabetic", "titleLineHeight": 20, "grid": true, "gridDash": [2,2], "gridColor": "#444444", "gridWidth": 1}},
     "stroke": {"field": "s", "type": "nominal", "scale": {"domain": ["U","Pu"], "range": ["#4052e2","#e03a3a"]}, "legend": null}
    }},
   {"data": {"name": "dev"}, "transform": [{"filter": "datum.s == 'U'"}],
    "mark": {"type": "point", "shape": "circle", "filled": true, "fill": "#3030d8", "strokeWidth": 0, "size": 42, "opacity": 1},
    "encoding": {
     "x": {"field": "e", "type": "quantitative", "scale": {"domain": [0.7, 8], "nice": false, "zero": false},
      "axis": {"orient": "bottom", "values": [0.8,0.9,1,1.1,1.2,1.3,1.4,1.5,1.6,1.7,1.8,1.9,2,2.1,2.2,2.3,2.4,2.5,2.6,2.7,2.8,2.9,3,3.1,3.2,3.3,3.4,3.5,3.6,3.7,3.8,3.9,4,4.1,4.2,4.3,4.4,4.5,4.6,4.7,4.8,4.9,5,5.1,5.2,5.3,5.4,5.5,5.6,5.7,5.8,5.9,6,6.1,6.2,6.3,6.4,6.5,6.6,6.7,6.8,6.9,7,7.1,7.2,7.3,7.4,7.5,7.6,7.7,7.8,7.9], "tickSize": -4, "labels": false, "title": null}},
     "y": {"field": "v", "type": "quantitative", "scale": {"domain": [0, 4.5], "nice": false, "zero": false},
      "axis": {"orient": "left", "values": [0,0.2,0.4,0.6,0.8,1,1.2,1.4,1.6,1.8,2,2.2,2.4,2.6,2.8,3,3.2,3.4,3.6,3.8,4,4.2,4.4], "tickSize": -3.5, "labels": false, "title": null}}
    }},
   {"data": {"name": "dev"}, "transform": [{"filter": "datum.s == 'Pu'"}],
    "mark": {"type": "point", "shape": "circle", "filled": true, "fill": "#ffffff", "stroke": "#e03a3a", "strokeWidth": 1.2, "size": 45, "opacity": 1},
    "encoding": {
     "x": {"field": "e", "type": "quantitative", "scale": {"domain": [0.7, 8], "nice": false, "zero": false},
      "axis": {"orient": "bottom", "values": [], "ticks": false, "labels": false, "title": "5", "titleX": 449, "titleY": 68, "titleAlign": "center", "titleBaseline": "alphabetic", "titleFont": "Open Sans", "titleFontWeight": 300, "titleFontSize": 23, "titleColor": "#8a8a8a"}},
     "y": {"field": "v", "type": "quantitative", "scale": {"domain": [0, 4.5], "nice": false, "zero": false}, "axis": null}
    }}
  ]
 }
]
}
